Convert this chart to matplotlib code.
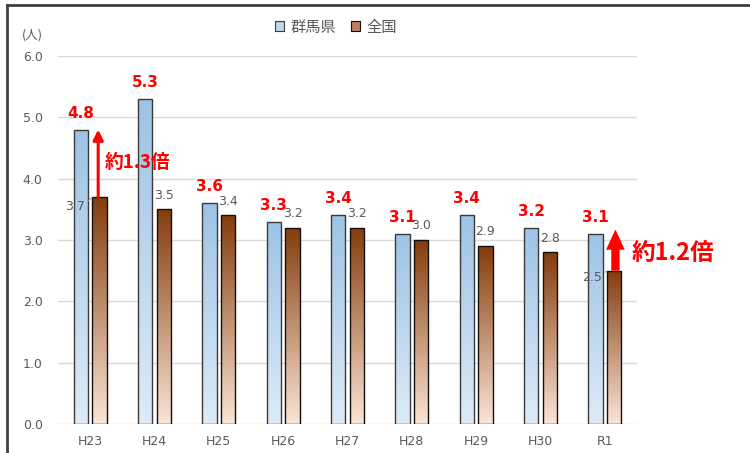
import numpy as np
import matplotlib
matplotlib.use('Agg')
import matplotlib.pyplot as plt
from matplotlib.colors import LinearSegmentedColormap
from matplotlib.patches import Patch
from matplotlib.lines import Line2D

plt.rcParams['font.family'] = ['DejaVu Sans', 'Noto Sans CJK JP']

years = ['H23', 'H24', 'H25', 'H26', 'H27', 'H28', 'H29', 'H30', 'R1']
gunma = [4.8, 5.3, 3.6, 3.3, 3.4, 3.1, 3.4, 3.2, 3.1]
zenkoku = [3.7, 3.5, 3.4, 3.2, 3.2, 3.0, 2.9, 2.8, 2.5]

gray = '#595959'
blue_cmap = LinearSegmentedColormap.from_list('b', ['#deebf7', '#9dc3e6'])
brown_cmap = LinearSegmentedColormap.from_list('r', ['#fbe5d6', '#843c0c'])

fig = plt.figure(figsize=(7.5, 4.53), dpi=100)
ax = fig.add_axes([0.0773, 0.064, 0.772, 0.8124])

x = np.arange(len(years))
off = 0.145
w = 0.225
b1 = ax.bar(x - off, gunma, w, facecolor='none', edgecolor='#3a3a3a', lw=1.0, zorder=3)
b2 = ax.bar(x + off, zenkoku, w, facecolor='none', edgecolor='#111111', lw=1.0, zorder=3)

# gradient fill inside each bar
grad = np.linspace(0, 1, 256).reshape(-1, 1)
for bars, cmap in [(b1, blue_cmap), (b2, brown_cmap)]:
    for p in bars:
        x0, y0 = p.get_x(), p.get_y()
        im = ax.imshow(grad, cmap=cmap, origin='lower', aspect='auto',
                       extent=(x0, x0 + p.get_width(), y0, y0 + p.get_height()),
                       zorder=2, interpolation='bilinear')
        im.set_clip_path(p)

ax.set_xlim(-0.5, len(years) - 0.5)
ax.set_ylim(0, 6)
ax.set_yticks(np.arange(0, 6.01, 1.0))
ax.set_yticklabels([f'{v:.1f}' for v in np.arange(0, 6.01, 1.0)])
ax.set_xticks(x)
ax.set_xticklabels(years)
ax.tick_params(axis='both', length=0, labelsize=9, labelcolor=gray)
ax.tick_params(axis='y', pad=11)
ax.tick_params(axis='x', pad=8)
ax.yaxis.grid(True, color='#d9d9d9', lw=1.0, zorder=0)
ax.set_axisbelow(True)
for s in ax.spines.values():
    s.set_visible(False)

# data labels
for i, v in enumerate(gunma):
    ax.annotate(f'{v:.1f}', (x[i] - off, v), xytext=(0, 6.5), textcoords='offset points',
                ha='center', va='bottom', color='red', fontsize=11, fontweight='bold', zorder=6)

special = {0: (-12.5, -7), 8: (-11, -4.7)}
for i, v in enumerate(zenkoku):
    if i in special:
        dx, dy = special[i]
        ax.annotate(f'{v:.1f}', (x[i] + off - w / 2, v), xytext=(dx, dy), textcoords='offset points',
                    ha='center', va='center', color=gray, fontsize=9, zorder=6,
                    arrowprops=dict(arrowstyle='-', color='#a6a6a6', lw=0.8, shrinkA=1, shrinkB=0,
                                    connectionstyle='angle,angleA=0,angleB=45,rad=0'))
    else:
        ax.annotate(f'{v:.1f}', (x[i] + off, v), xytext=(0, 5.5), textcoords='offset points',
                    ha='center', va='bottom', color=gray, fontsize=9, zorder=6)

# ratio arrows
ax.annotate('', xy=(x[0] + off - 0.02, gunma[0]), xytext=(x[0] + off - 0.02, zenkoku[0]),
            arrowprops=dict(arrowstyle='-|>,head_width=0.3,head_length=0.6', color='red',
                            lw=2.2, shrinkA=0, shrinkB=0), zorder=5)
ax.text(x[0] + 0.23, 4.26, '約1.3倍', color='red', fontsize=13.5, fontweight='bold',
        ha='left', va='center', family=['Noto Sans CJK JP', 'DejaVu Sans'])

ax.annotate('', xy=(x[8] + off + 0.02, 3.17), xytext=(x[8] + off + 0.02, zenkoku[8]),
            arrowprops=dict(arrowstyle='simple,head_length=1.45,head_width=1.35,tail_width=0.6',
                            color='red', lw=0, shrinkA=0, shrinkB=0, mutation_scale=10), zorder=5)
ax.text(x[8] + 0.41, 2.79, '約1.2倍', color='red', fontsize=17, fontweight='bold',
        ha='left', va='center', family=['Noto Sans CJK JP', 'DejaVu Sans'])

# unit label
fig.text(0.043, 1 - 35 / 453, '(人)', ha='center', va='center', fontsize=9, color=gray,
         family=['Noto Sans CJK JP', 'DejaVu Sans'])

# legend
handles = [Patch(facecolor='#bdd7ee', edgecolor='#3a3a3a', lw=0.8),
           Patch(facecolor='#c08060', edgecolor='#111111', lw=0.8)]
leg = fig.legend(handles, ['群馬県', '全国'], loc='center', bbox_to_anchor=(0.448, 0.94),
                 ncol=2, frameon=False, handlelength=0.6, handleheight=0.6,
                 handletextpad=0.4, columnspacing=1.0,
                 prop={'family': ['Noto Sans CJK JP', 'DejaVu Sans'], 'size': 11})
for t in leg.get_texts():
    t.set_color(gray)

# outer frame (left and top)
fig.add_artist(Line2D([0.0093, 0.0093], [0, 0.989], color='#404040', lw=2, transform=fig.transFigure))
fig.add_artist(Line2D([0.0093, 1.0], [0.989, 0.989], color='#404040', lw=2, transform=fig.transFigure))

fig.savefig('out.png', dpi=100)
